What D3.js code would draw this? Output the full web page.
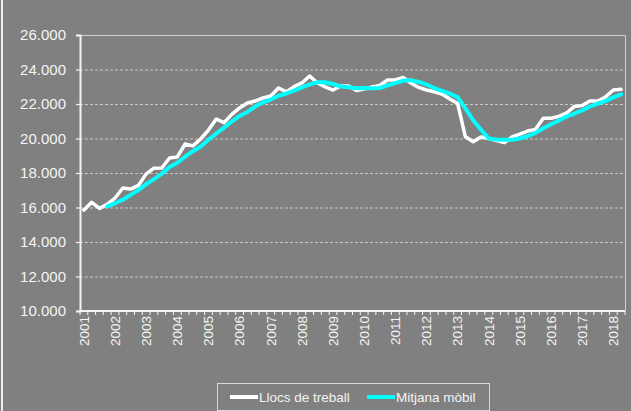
<!DOCTYPE html>
<html>
<head>
<meta charset="utf-8">
<script src="https://cdn.jsdelivr.net/npm/d3@7"></script>
<style>
  html, body { margin: 0; padding: 0; background: #808080; }
  svg { display: block; }
  text { font-family: "Liberation Sans", Arial, sans-serif; fill: #f4f4f4; }
</style>
</head>
<body>
<svg id="chart" width="631" height="411"></svg>
<script>
// Year labels on the category axis and the quarters within each year
const years = ["2001","2002","2003","2004","2005","2006","2007","2008","2009",
               "2010","2011","2012","2013","2014","2015","2016","2017","2018"];
const quarters = ["T1","T2","T3","T4"];

// Jobs per quarter (2001 T1 – 2018 T2)
const llocsTreball = [
  15850, 16300, 15950, 16180, 16550, 17130, 17070, 17280, 17950, 18280,
  18290, 18870, 18930, 19680, 19570, 19970, 20490, 21130, 20920, 21400,
  21770, 22060, 22170, 22350, 22460, 22930, 22700, 23010, 23220, 23620,
  23220, 22990, 22810, 23040, 23040, 22780, 22870, 22990, 23070, 23390,
  23390, 23540, 23220, 22960, 22810, 22710, 22580, 22290, 22030, 20100,
  19810, 20090, 20000, 19880, 19760, 20090, 20260, 20430, 20530, 21170,
  21170, 21280, 21480, 21860, 21910, 22170, 22170, 22410, 22810, 22850
];

// Four-quarter moving average (starts with the fourth quarter)
const mitjanaMobil = [
  null, null, null, 16070, 16245, 16453, 16733, 17008, 17358, 17645,
  17950, 18348, 18593, 18943, 19263, 19538, 19928, 20290, 20628, 20985,
  21305, 21538, 21850, 22088, 22260, 22478, 22610, 22775, 22965, 23138,
  23268, 23263, 23160, 23015, 22970, 22918, 22933, 22920, 22928, 23080,
  23210, 23348, 23385, 23278, 23133, 22925, 22765, 22598, 22403, 21750,
  21058, 20508, 20000, 19945, 19933, 19933, 19998, 20135, 20328, 20598,
  20825, 21038, 21275, 21448, 21633, 21855, 22028, 22165, 22390, 22560
];

const yTicks = [10000, 12000, 14000, 16000, 18000, 20000, 22000, 24000, 26000];
const seriesNames = ["Llocs de treball", "Mitjana mòbil"];
const seriesColors = ["#ffffff", "#00ffff"];

const periods = years.flatMap(y => quarters.map(q => y + " " + q)).slice(0, llocsTreball.length);

const svg = d3.select("#chart");
const W = 631, H = 411;
const plot = { left: 80, right: 625, top: 35, bottom: 311 };

// Outer frame edge
svg.append("line")
  .attr("x1", 2).attr("x2", 2).attr("y1", 0).attr("y2", H)
  .attr("stroke", "#ececec").attr("stroke-width", 2);

const x = d3.scaleBand().domain(periods).range([plot.left, plot.right]).paddingInner(0).paddingOuter(0);
const y = d3.scaleLinear().domain([10000, 26000]).range([plot.bottom, plot.top]);

const locale = d3.formatLocale({ decimal: ",", thousands: ".", grouping: [3], currency: ["", " €"] });
const fmt = locale.format(",");

// Horizontal gridlines
svg.append("g")
  .selectAll("line")
  .data(yTicks.filter(t => t > 10000 && t < 26000))
  .join("line")
  .attr("x1", plot.left).attr("x2", plot.right)
  .attr("y1", d => y(d) + 0.5).attr("y2", d => y(d) + 0.5)
  .attr("stroke", "#c8c8c8").attr("stroke-width", 1)
  .attr("stroke-dasharray", "3,2");

// Plot area border (top and right)
svg.append("path")
  .attr("d", `M${plot.left},${y(26000) + 0.5}H${plot.right + 0.5}V${plot.bottom}`)
  .attr("fill", "none").attr("stroke", "#d0d0d0").attr("stroke-width", 1);

// Y axis
const yAxis = d3.axisLeft(y).tickValues(yTicks).tickFormat(fmt).tickSize(4).tickPadding(10);
const gy = svg.append("g").attr("transform", `translate(${plot.left},0)`).call(yAxis);
gy.select(".domain").attr("stroke", "#f4f4f4").attr("stroke-width", 2);
gy.selectAll(".tick line").attr("stroke", "#f4f4f4").attr("stroke-width", 1.2);
gy.selectAll(".tick text").attr("font-size", 15).attr("fill", "#f4f4f4")
  .attr("font-family", "'Liberation Sans', Arial, sans-serif");

// X axis: quarter boundary ticks, year labels
const gx = svg.append("g").attr("transform", `translate(0,${plot.bottom})`);
gx.append("line").attr("x1", plot.left - 1).attr("x2", plot.right)
  .attr("y1", 0).attr("y2", 0).attr("stroke", "#f4f4f4").attr("stroke-width", 2);
gx.selectAll("line.qtick")
  .data(periods.concat([null]))
  .join("line").attr("class", "qtick")
  .attr("x1", (d, i) => plot.left + i * x.bandwidth())
  .attr("x2", (d, i) => plot.left + i * x.bandwidth())
  .attr("y1", 0).attr("y2", 4)
  .attr("stroke", "#f4f4f4").attr("stroke-width", 1);
gx.selectAll("text")
  .data(periods.filter(p => p.endsWith("T1")))
  .join("text")
  .attr("transform", d => `translate(${x(d) + x.bandwidth() / 2},5) rotate(-90)`)
  .attr("dy", "0.36em")
  .attr("text-anchor", "end")
  .attr("font-size", 13.5)
  .text(d => d.slice(0, 4));

// Series lines
const line = d3.line()
  .defined(d => d != null)
  .x((d, i) => x(periods[i]) + x.bandwidth() / 2)
  .y(d => y(d));

svg.append("path")
  .datum(llocsTreball)
  .attr("d", line)
  .attr("fill", "none").attr("stroke", seriesColors[0])
  .attr("stroke-width", 3.5).attr("stroke-linejoin", "round").attr("stroke-linecap", "round");

svg.append("path")
  .datum(mitjanaMobil)
  .attr("d", line)
  .attr("fill", "none").attr("stroke", seriesColors[1])
  .attr("stroke-width", 4).attr("stroke-linejoin", "round").attr("stroke-linecap", "round");

// Legend
const lg = svg.append("g");
lg.append("rect")
  .attr("x", 217.5).attr("y", 383.5).attr("width", 272).attr("height", 27)
  .attr("fill", "none").attr("stroke", "#d8d8d8").attr("stroke-width", 1);
const entries = [
  { name: seriesNames[0], color: seriesColors[0], x0: 230 },
  { name: seriesNames[1], color: seriesColors[1], x0: 367 }
];
entries.forEach(e => {
  lg.append("line")
    .attr("x1", e.x0).attr("x2", e.x0 + 28).attr("y1", 397).attr("y2", 397)
    .attr("stroke", e.color).attr("stroke-width", 4);
  lg.append("text")
    .attr("x", e.x0 + 29).attr("y", 397).attr("dy", "0.35em")
    .attr("font-size", 13.5)
    .text(e.name);
});
</script>
</body>
</html>
